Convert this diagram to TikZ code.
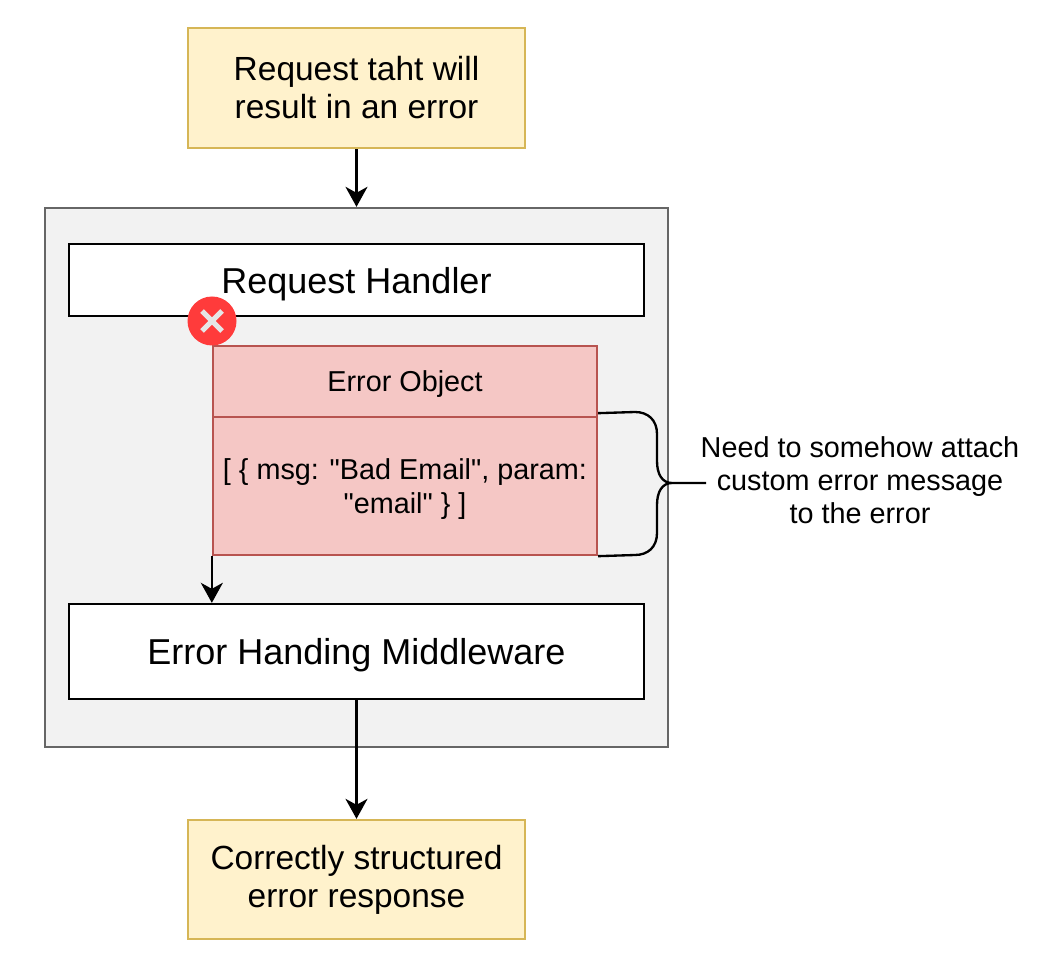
\documentclass[tikz,border=0pt]{standalone}
\usepackage{fontspec}
\newfontfamily\diagfont{Liberation Sans}
\usetikzlibrary{arrows.meta,calc}
\definecolor{yfill}{HTML}{FFF2CC}
\definecolor{ystroke}{HTML}{D6B656}
\definecolor{gfill}{HTML}{F2F2F2}
\definecolor{gstroke}{HTML}{666666}
\definecolor{rfill}{HTML}{F5C7C5}
\definecolor{rstroke}{HTML}{B85450}
\definecolor{xred}{HTML}{FF3B3B}
\definecolor{xgrey}{HTML}{E6E6E6}
\tikzset{
  x=0.75pt,y=-0.75pt,
  box/.style={draw,line width=1.75pt,minimum width=#1*0.75pt,inner sep=0pt,align=center},
  big/.style={font=\diagfont\fontsize{27}{28.5}\selectfont},
  mid/.style={font=\diagfont\fontsize{25.1}{28.5}\selectfont},
  small/.style={font=\diagfont\fontsize{21.6}{25.5}\selectfont},
  yellowbox/.style={box=337,minimum height=120*0.75pt,fill=yfill,draw=ystroke,mid},
  whitebox/.style={box=575,fill=white,draw=black,big,text depth=0pt},
  redbox/.style={box=384,fill=rfill,draw=rstroke,small},
  flow/.style={draw=black,line width=1.75pt,-{Stealth[length=15pt,width=16.5pt,inset=4.5pt]}},
}
\begin{document}
\begin{tikzpicture}
\useasboundingbox (0,0) rectangle (1041,969);
\node[box=623,minimum height=539*0.75pt,fill=gfill,draw=gstroke] (outer) at (356.5,477.5) {};
\node[yellowbox] (req) at (356.5,88) {Request taht will\\result in an error};
\node[whitebox,minimum height=72*0.75pt] (handler) at (356.5,280) {Request Handler};
\node[redbox,minimum height=71*0.75pt,text depth=-3pt] (errobj) at (405,381.5) {Error Object};
\node[redbox,minimum height=138*0.75pt,text depth=-0.7pt] (errbody) at (405,486) {[ \{ msg: "Bad Email", param:\\"email" \} ]};
\node[whitebox,minimum height=95*0.75pt] (mw) at (356.5,651.5) {Error Handing Middleware};
\node[yellowbox,minimum height=119*0.75pt] (resp) at (356.5,879.5) {Correctly structured\\error response};
\node[small,align=center,inner sep=0pt,font=\diagfont\fontsize{21.6}{24.75}\selectfont] (note) at (860,480) {Need to somehow attach\\custom error message\\ to the error};
\node[circle,fill=xred,minimum size=49*0.75pt,inner sep=0pt] (fail) at (212,321) {};
\draw[xgrey,line width=3.8pt] ($(fail)+(-10,-10)$) -- ($(fail)+(10,10)$);
\draw[xgrey,line width=3.8pt] ($(fail)+(-10,10)$) -- ($(fail)+(10,-10)$);
\draw[flow] (req.south) -- (req.south |- outer.north);
\draw[flow] (errbody.south west) -- (errbody.south west |- mw.north);
\draw[flow] (mw.south) -- (mw.south |- resp.north);
\coordinate (tip) at (706,483);
\coordinate (bracetop) at ($(errobj.south east)+(0,-5)$);
\draw[black,line width=1.75pt,line join=round]
  (bracetop) -- (635,412) .. controls (648,412) and (657,420) .. (657,434)
  -- (657,461) .. controls (657,474) and (662,483) .. (672,483) -- (tip)
  (errbody.south east) -- (635,555) .. controls (648,555) and (657,547) .. (657,533)
  -- (657,505) .. controls (657,492) and (662,483) .. (672,483);
\end{tikzpicture}
\end{document}
